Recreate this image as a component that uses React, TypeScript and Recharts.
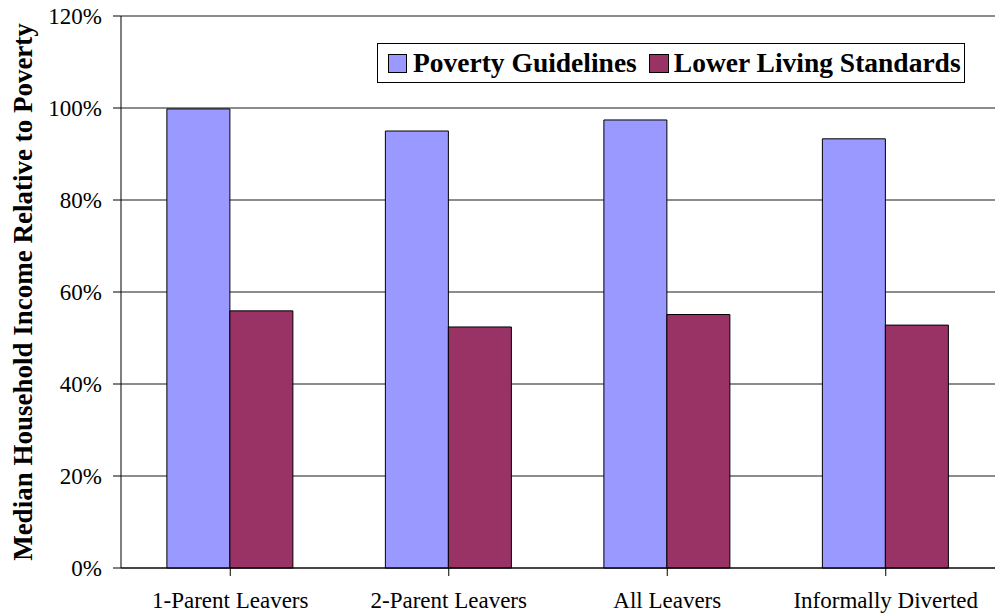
import React from "react";
import { BarChart, Bar, XAxis, YAxis, CartesianGrid, Legend, Label } from "recharts";

const categories = ["1-Parent Leavers", "2-Parent Leavers", "All Leavers", "Informally Diverted"];
const povertyGuidelines = [99.8, 95.0, 97.4, 93.3];
const lowerLivingStandards = [55.9, 52.4, 55.1, 52.8];
const yTicks = [0, 20, 40, 60, 80, 100, 120];

const data = categories.map((c, i) => ({
  name: c,
  pg: povertyGuidelines[i],
  lls: lowerLivingStandards[i],
}));

const FONT = "'Liberation Serif', 'Times New Roman', serif";

const LegendBox = () => (
  <div
    style={{
      boxSizing: "border-box",
      width: 588,
      height: 40,
      border: "1px solid #000",
      background: "#fff",
      display: "flex",
      alignItems: "center",
      padding: "0 0 0 10px",
      fontFamily: FONT,
      fontWeight: "bold",
      fontSize: 27.5,
      whiteSpace: "nowrap",
      color: "#000",
    }}
  >
    <span style={{ boxSizing: "border-box", display: "inline-block", width: 19, height: 19, background: "#9999FF", border: "1px solid #000", marginRight: 6 }} />
    <span style={{ marginRight: 12 }}>Poverty Guidelines</span>
    <span style={{ boxSizing: "border-box", display: "inline-block", width: 20, height: 19, background: "#993366", border: "1px solid #000", marginRight: 5 }} />
    <span>Lower Living Standards</span>
  </div>
);

export default function App() {
  return (
    <div style={{ position: "absolute", left: 0, top: 0, width: 1001, height: 613, background: "#fff" }}>
      <BarChart
        width={1001}
        height={613}
        data={data}
        margin={{ top: 16, right: 6, bottom: 15, left: 121 - 60 }}
        barCategoryGap="21%"
        barGap={0}
      >
        <CartesianGrid vertical={false} stroke="#000" strokeOpacity={0.9} />
        <XAxis
          dataKey="name"
          stroke="#000"
          tickSize={8}
          height={30}
          tick={{ fill: "#000", fontFamily: FONT, fontSize: 23 }}
          tickMargin={16}
          interval={0}
        />
        <YAxis
          domain={[0, 120]}
          ticks={yTicks}
          width={60}
          stroke="#000"
          tickSize={8}
          tickMargin={11}
          tickFormatter={(v) => `${v}%`}
          tick={{ fill: "#000", fontFamily: FONT, fontSize: 23 }}
          interval={0}
        >
          <Label
            value="Median Household Income Relative to Poverty"
            angle={-90}
            position="insideLeft"
            dx={-44}
            dy={0}
            style={{ textAnchor: "middle", fontFamily: FONT, fontWeight: "bold", fontSize: 27, fill: "#000" }}
          />
        </YAxis>
        <Legend
          layout="horizontal"
          verticalAlign="middle"
          align="center"
          content={() => <LegendBox />}
          wrapperStyle={{ top: 43, left: 377, width: 588, height: 40 }}
        />
        <Bar dataKey="pg" name="Poverty Guidelines" fill="#9999FF" stroke="#000" strokeWidth={1} isAnimationActive={false} />
        <Bar dataKey="lls" name="Lower Living Standards" fill="#993366" stroke="#000" strokeWidth={1} isAnimationActive={false} />
      </BarChart>
    </div>
  );
}
